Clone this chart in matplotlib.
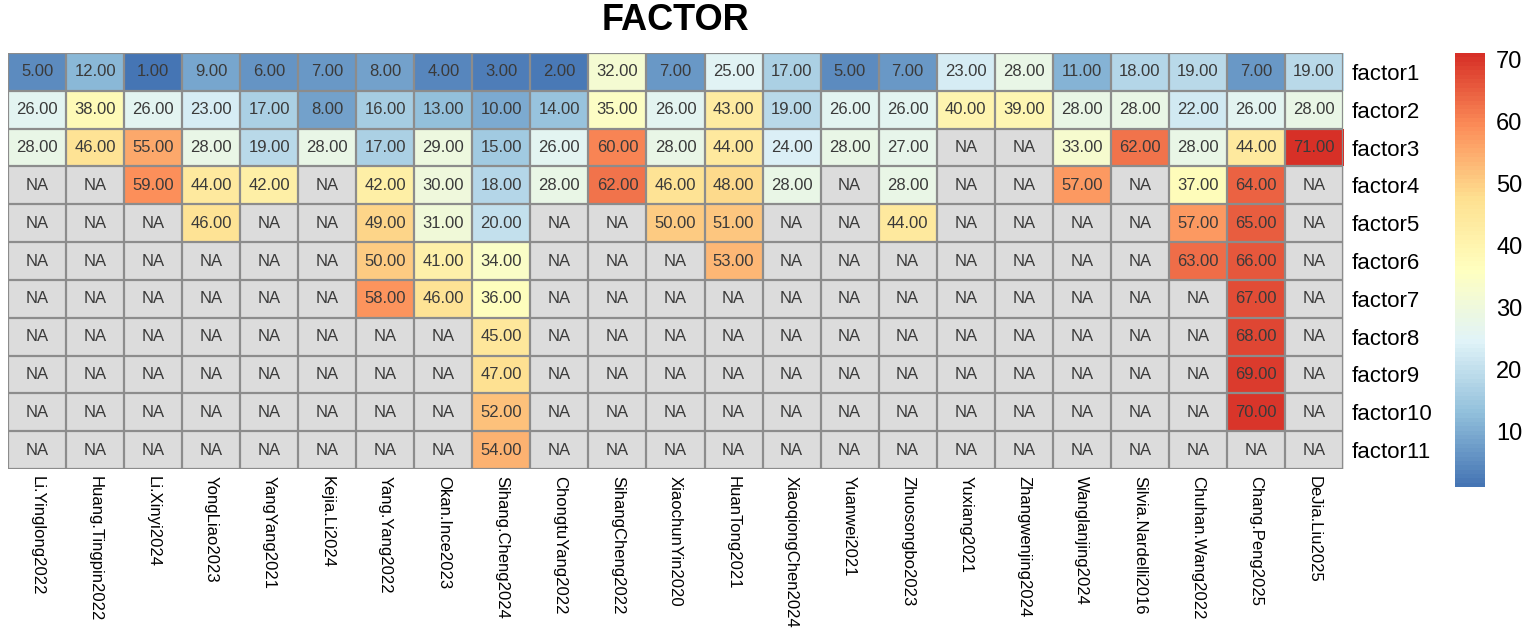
import numpy as np
import matplotlib
matplotlib.use("Agg")
import matplotlib.pyplot as plt
from matplotlib.colors import LinearSegmentedColormap, Normalize

NA = np.nan
studies = ["Li.Yinglong2022", "Huang.Tingpin2022", "Li.Xinyi2024", "YongLiao2023", "YangYang2021",
           "Kejia.Li2024", "Yang.Yang2022", "Okan.Ince2023", "Sihang.Cheng2024", "ChongtuYang2022",
           "SihangCheng2022", "XiaochunYin2020", "HuanTong2021", "XiaoqiongChen2024", "Yuanwei2021",
           "Zhuosongbo2023", "Yuxiang2021", "Zhangwenjing2024", "Wanglanjing2024", "Silvia.Nardelli2016",
           "Chuhan.Wang2022", "Chang.Peng2025", "DeJia.Liu2025"]
factors = [f"factor{i}" for i in range(1, 12)]

factor1 = [5, 12, 1, 9, 6, 7, 8, 4, 3, 2, 32, 7, 25, 17, 5, 7, 23, 28, 11, 18, 19, 7, 19]
factor2 = [26, 38, 26, 23, 17, 8, 16, 13, 10, 14, 35, 26, 43, 19, 26, 26, 40, 39, 28, 28, 22, 26, 28]
factor3 = [28, 46, 55, 28, 19, 28, 17, 29, 15, 26, 60, 28, 44, 24, 28, 27, NA, NA, 33, 62, 28, 44, 71]
factor4 = [NA, NA, 59, 44, 42, NA, 42, 30, 18, 28, 62, 46, 48, 28, NA, 28, NA, NA, 57, NA, 37, 64, NA]
factor5 = [NA, NA, NA, 46, NA, NA, 49, 31, 20, NA, NA, 50, 51, NA, NA, 44, NA, NA, NA, NA, 57, 65, NA]
factor6 = [NA, NA, NA, NA, NA, NA, 50, 41, 34, NA, NA, NA, 53, NA, NA, NA, NA, NA, NA, NA, 63, 66, NA]
factor7 = [NA, NA, NA, NA, NA, NA, 58, 46, 36, NA, NA, NA, NA, NA, NA, NA, NA, NA, NA, NA, NA, 67, NA]
factor8 = [NA, NA, NA, NA, NA, NA, NA, NA, 45, NA, NA, NA, NA, NA, NA, NA, NA, NA, NA, NA, NA, 68, NA]
factor9 = [NA, NA, NA, NA, NA, NA, NA, NA, 47, NA, NA, NA, NA, NA, NA, NA, NA, NA, NA, NA, NA, 69, NA]
factor10 = [NA, NA, NA, NA, NA, NA, NA, NA, 52, NA, NA, NA, NA, NA, NA, NA, NA, NA, NA, NA, NA, 70, NA]
factor11 = [NA, NA, NA, NA, NA, NA, NA, NA, 54, NA, NA, NA, NA, NA, NA, NA, NA, NA, NA, NA, NA, NA, NA]
cbar_ticks = [10, 20, 30, 40, 50, 60, 70]

data = np.array([factor1, factor2, factor3, factor4, factor5, factor6, factor7,
                 factor8, factor9, factor10, factor11], dtype=float)
nr, nc = data.shape

cmap = LinearSegmentedColormap.from_list(
    "rdylbu_r", ["#4575B4", "#91BFDB", "#E0F3F8", "#FFFFBF", "#FEE090", "#FC8D59", "#D73027"], N=100)
cmap.set_bad("#DCDCDC")
vmin, vmax = np.nanmin(data), np.nanmax(data)
norm = Normalize(vmin=vmin, vmax=vmax)

fig = plt.figure(figsize=(15.35, 6.39), dpi=100)
ax = fig.add_axes([8/1535, 1-469/639, (1343-8)/1535, (469-53)/639])
masked = np.ma.masked_invalid(data)
ax.imshow(masked, cmap=cmap, norm=norm, aspect="auto", interpolation="nearest",
          extent=(-0.5, nc-0.5, nr-0.5, -0.5))
for x in np.arange(-0.5, nc, 1.0):
    ax.axvline(x, color="#8C8C8C", lw=1.6)
for y in np.arange(-0.5, nr, 1.0):
    ax.axhline(y, color="#8C8C8C", lw=1.6)
ax.set_xlim(-0.5, nc-0.5)
ax.set_ylim(nr-0.5, -0.5)
for i in range(nr):
    for j in range(nc):
        v = data[i, j]
        txt = "NA" if np.isnan(v) else f"{v:.2f}"
        ax.text(j, i, txt, ha="center", va="center", fontsize=12, color="#3A3A3A",
                family="Liberation Sans")
for s in ax.spines.values():
    s.set_visible(False)
ax.set_xticks(range(nc))
ax.set_xticklabels(studies, rotation=270, fontsize=12, family="Liberation Sans")
ax.set_yticks(range(nr))
ax.set_yticklabels(factors, fontsize=16, family="Liberation Sans")
ax.yaxis.tick_right()
ax.tick_params(axis="both", length=0)
ax.tick_params(axis="x", pad=5)
ax.tick_params(axis="y", pad=6)

fig.text((8+1343)/2/1535, 1-20/639, "FACTOR", fontsize=26, fontweight="bold",
         family="Liberation Sans", ha="center", va="center")

cax = fig.add_axes([1455/1535, 1-487/639, 30/1535, (487-53)/639])
sm = plt.cm.ScalarMappable(norm=norm, cmap=cmap)
cb = fig.colorbar(sm, cax=cax, ticks=cbar_ticks)
cb.outline.set_visible(False)
cax.tick_params(length=0, labelsize=17, pad=8)
for t in cax.get_yticklabels():
    t.set_family("Liberation Sans")

fig.savefig("out.png", dpi=100, facecolor="white")
